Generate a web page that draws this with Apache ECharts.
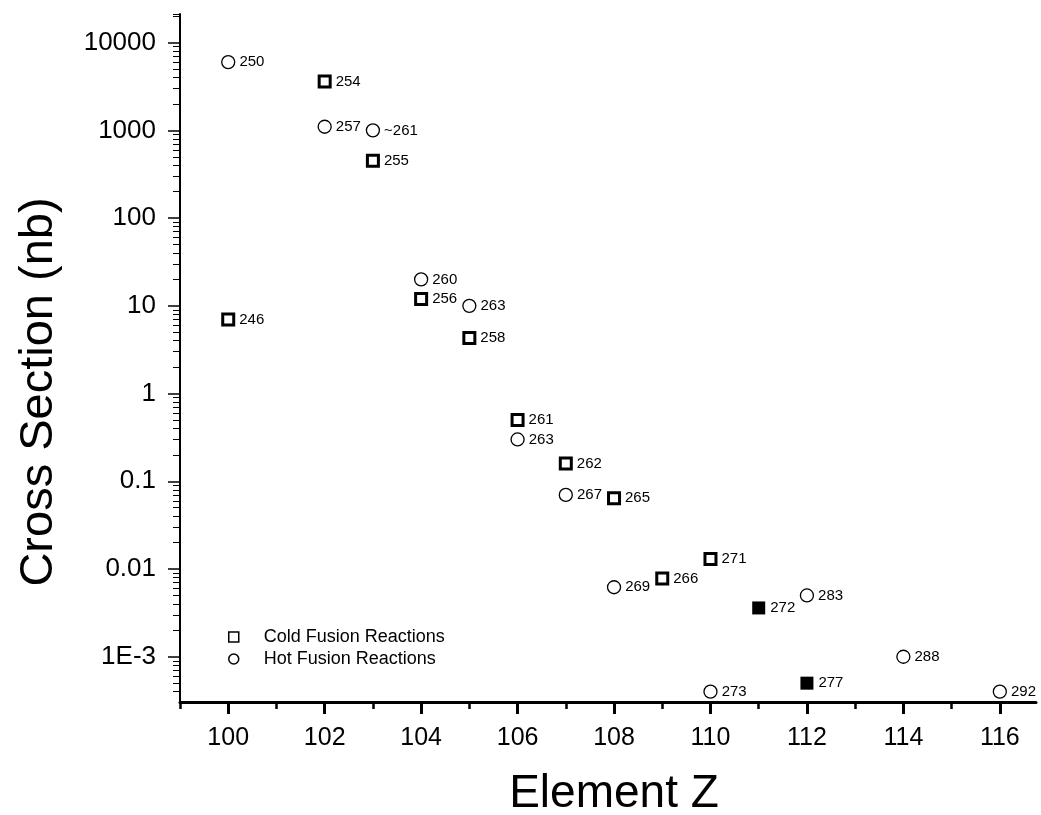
<!DOCTYPE html>
<html>
<head>
<meta charset="utf-8">
<script src="https://cdn.jsdelivr.net/npm/echarts@6/dist/echarts.min.js"></script>
<style>
html,body{margin:0;padding:0;background:#fff;}
#chart{width:1041px;height:815px;}
</style>
</head>
<body>
<div id="chart"></div>
<script>
// Cold fusion reactions (open squares)
const coldZ = [100, 102, 103, 104, 105, 106, 107, 108, 109, 110];
const coldSigma = [7, 3600, 450, 12, 4.3, 0.5, 0.16, 0.064, 0.0078, 0.013];
const coldLabels = ['246', '254', '255', '256', '258', '261', '262', '265', '266', '271'];

// Cold fusion reactions (filled squares)
const coldFilledZ = [111, 112];
const coldFilledSigma = [0.0036, 0.0005];
const coldFilledLabels = ['272', '277'];

// Hot fusion reactions (open circles)
const hotZ = [100, 102, 103, 104, 105, 106, 107, 108, 110, 112, 114, 116];
const hotSigma = [6000, 1100, 1000, 20, 10, 0.3, 0.07, 0.0062, 0.0004, 0.005, 0.001, 0.0004];
const hotLabels = ['250', '257', '~261', '260', '263', '263', '267', '269', '273', '283', '288', '292'];

// Axis ticks
const xMajorTicks = [100, 102, 104, 106, 108, 110, 112, 114, 116];
const xMinorTicks = [99, 101, 103, 105, 107, 109, 111, 113, 115];
const xMin = 99, xMax = 116.75;
const yMin = 3.05e-4, yMax = 2.12e4;
const yMinorMultipliers = [2, 3, 4, 5, 6, 7, 8, 9];
const yDecades = [-4, -3, -2, -1, 0, 1, 2, 3, 4];

const FONT = '"Liberation Sans", Arial, sans-serif';

function toData(xs, ys, labels) {
  return xs.map((x, i) => [x, ys[i], labels[i]]);
}

// Minor log ticks expressed on a companion linear (log10) axis
const lgMin = Math.log10(yMin), lgMax = Math.log10(yMax);
const yMinorTicks = [];
yDecades.forEach(d => yMinorMultipliers.forEach(m => {
  const v = Math.log10(m) + d;
  if (v > lgMin && v < lgMax) yMinorTicks.push(v);
}));
yMinorTicks.push(lgMax);

const labelStyle = {
  show: true,
  position: 'right',
  distance: 4,
  color: '#000',
  fontFamily: FONT,
  fontSize: 15,
  formatter: p => p.data[2]
};

const chart = echarts.init(document.getElementById('chart'), null, {renderer: 'canvas'});
chart.setOption({
  backgroundColor: '#fff',
  animation: false,
  grid: {left: 180, right: 5, top: 14, bottom: 113, containLabel: false, outerBoundsMode: 'none'},
  legend: {
    orient: 'vertical',
    left: 223,
    top: 623,
    itemWidth: 10,
    itemHeight: 10,
    itemGap: 4,
    data: ['Cold Fusion Reactions', 'Hot Fusion Reactions'],
    itemStyle: {borderWidth: 1.5, color: '#fff', borderColor: '#000'},
    textStyle: {fontFamily: FONT, fontSize: 18, color: '#000', padding: [0, 0, 0, 20]}
  },
  xAxis: [{
    type: 'value',
    min: xMin,
    max: xMax,
    name: 'Element Z',
    nameLocation: 'middle',
    nameGap: 69,
    nameTextStyle: {fontFamily: FONT, fontSize: 46, color: '#000', padding: [0, 0, 0, 12]},
    axisLine: {show: true, onZero: false, lineStyle: {color: '#000', width: 3}},
    axisTick: {show: true, inside: false, length: 12, customValues: xMajorTicks, lineStyle: {color: '#000', width: 3}},
    axisLabel: {show: true, customValues: xMajorTicks, margin: 24, fontFamily: FONT, fontSize: 25, color: '#000'},
    splitLine: {show: false}
  }, {
    type: 'value',
    min: xMin,
    max: xMax,
    position: 'bottom',
    axisLine: {show: false, onZero: false},
    axisTick: {show: true, inside: false, length: 7, customValues: xMinorTicks, lineStyle: {color: '#000', width: 2.5}},
    axisLabel: {show: false},
    splitLine: {show: false}
  }],
  yAxis: [{
    type: 'log',
    logBase: 10,
    min: yMin,
    max: yMax,
    name: 'Cross Section (nb)',
    nameLocation: 'middle',
    nameGap: 117,
    nameTextStyle: {fontFamily: FONT, fontSize: 47, color: '#000', padding: [0, 68, 0, 0]},
    axisLine: {show: true, onZero: false, lineStyle: {color: '#000', width: 2}},
    axisTick: {show: true, inside: false, length: 12, lineStyle: {color: '#000', width: 1.5}},
    axisLabel: {
      show: true,
      margin: 24,
      showMinLabel: false,
      showMaxLabel: false,
      fontFamily: FONT,
      fontSize: 26,
      color: '#000',
      formatter: v => {
        if (Math.abs(v - 0.001) < 1e-9) return '1E-3';
        return String(+v.toPrecision(3));
      }
    },
    splitLine: {show: false},
    minorTick: {show: false}
  }, {
    type: 'value',
    min: lgMin,
    max: lgMax,
    position: 'left',
    axisLine: {show: false, onZero: false},
    axisTick: {show: true, inside: false, length: 7, customValues: yMinorTicks, lineStyle: {color: '#000', width: 1}},
    axisLabel: {show: false},
    splitLine: {show: false}
  }],
  series: [{
    name: 'Cold Fusion Reactions',
    type: 'scatter',
    xAxisIndex: 0,
    yAxisIndex: 0,
    symbol: 'rect',
    symbolSize: 11,
    itemStyle: {color: '#fff', borderColor: '#000', borderWidth: 3, opacity: 1},
    label: labelStyle,
    data: toData(coldZ, coldSigma, coldLabels),
    z: 3
  }, {
    name: 'Cold Fusion (filled)',
    type: 'scatter',
    xAxisIndex: 0,
    yAxisIndex: 0,
    symbol: 'rect',
    symbolSize: 13,
    itemStyle: {color: '#000', borderColor: '#000', borderWidth: 0, opacity: 1},
    label: Object.assign({}, labelStyle, {distance: 5}),
    data: toData(coldFilledZ, coldFilledSigma, coldFilledLabels),
    z: 3
  }, {
    name: 'Hot Fusion Reactions',
    type: 'scatter',
    xAxisIndex: 0,
    yAxisIndex: 0,
    symbol: 'circle',
    symbolSize: 13,
    itemStyle: {color: '#fff', borderColor: '#000', borderWidth: 1.3, opacity: 1},
    label: labelStyle,
    data: toData(hotZ, hotSigma, hotLabels),
    z: 3
  }]
});
</script>
</body>
</html>
